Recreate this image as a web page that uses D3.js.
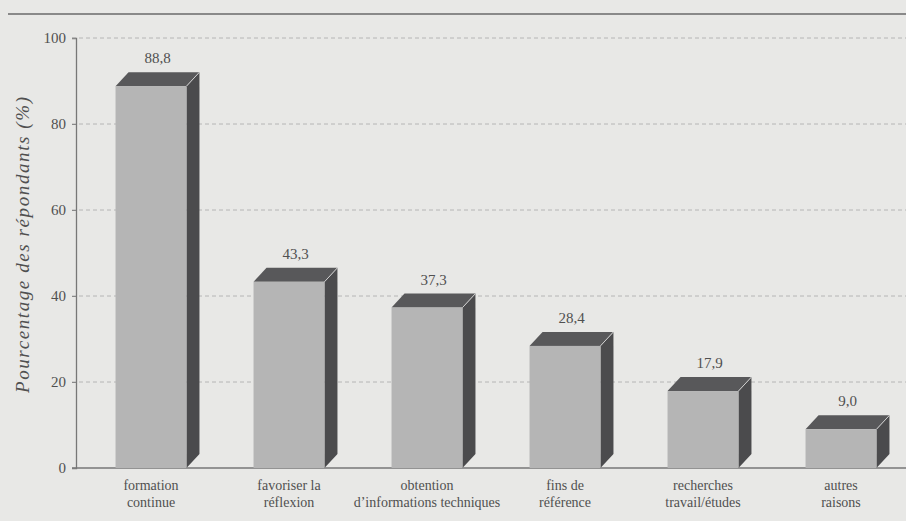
<!DOCTYPE html>
<html><head><meta charset="utf-8">
<script src="https://cdn.jsdelivr.net/npm/d3@7"></script>
</head><body style="margin:0;background:#e8e8e6">
<script>
const categories = [
  ["formation", "continue"],
  ["favoriser la", "réflexion"],
  ["obtention", "d’informations techniques"],
  ["fins de", "référence"],
  ["recherches", "travail/études"],
  ["autres", "raisons"]
];
const values = [88.8, 43.3, 37.3, 28.4, 17.9, 9.0];
const yTicks = [0, 20, 40, 60, 80, 100];
const yTitle = "Pourcentage des répondants (%)";

const W = 906, H = 521;
const FONT = '"Liberation Serif"';
const svg = d3.select("body").append("svg").attr("width", W).attr("height", H).style("display", "block");
svg.append("rect").attr("width", W).attr("height", H).attr("fill", "#e8e8e6");

const textCol = "#505050";

// top rule
svg.append("line").attr("x1", 8).attr("x2", W).attr("y1", 14).attr("y2", 14)
  .attr("stroke", "#6a6a6a").attr("stroke-width", 1.5);

const y = d3.scaleLinear().domain([0, 100]).range([468, 38]);
const idx = categories.map((c, i) => i);
const x = d3.scaleBand().domain(idx).range([82, 910]).paddingInner(0.486).paddingOuter(0.243);
const dx = 13, dy = 14;

// gridlines
svg.append("g").selectAll("line").data(yTicks.filter(t => t > 0)).join("line")
  .attr("x1", 72).attr("x2", W).attr("y1", d => y(d)).attr("y2", d => y(d))
  .attr("stroke", "#a8a8a8").attr("stroke-width", 0.8).attr("stroke-dasharray", "4,3");

// y axis
const yAxis = d3.axisLeft(y).tickValues(yTicks).tickSize(4).tickPadding(6).tickFormat(d3.format("d"));
const gy = svg.append("g").attr("transform", "translate(76,0)").call(yAxis);
gy.select(".domain").attr("stroke", "#777").attr("stroke-width", 1.3);
gy.selectAll(".tick line").attr("stroke", "#888");
gy.selectAll(".tick text").style("font-family", FONT).style("font-size", "15px").attr("fill", textCol);

// baseline
svg.append("line").attr("x1", 72).attr("x2", W).attr("y1", y(0)).attr("y2", y(0))
  .attr("stroke", "#777").attr("stroke-width", 1.3);

// y title
svg.append("text").attr("transform", `translate(29,245) rotate(-90)`)
  .attr("text-anchor", "middle").style("font-family", FONT).style("font-style", "italic")
  .style("font-size", "19px").attr("fill", textCol)
  .attr("textLength", 296).attr("lengthAdjust", "spacing").text(yTitle);

// bars
const bars = svg.append("g").selectAll("g").data(values).join("g");
bars.each(function(v, i) {
  const g = d3.select(this);
  const x0 = x(i), x1 = x(i) + x.bandwidth();
  const yt = y(v), yb = y(0);
  g.append("path").attr("d", `M${x1},${yt}L${x1+dx},${yt-dy}L${x1+dx},${yb-dy}L${x1},${yb}Z`)
    .attr("fill", "#4b4b4d");
  g.append("path").attr("d", `M${x0},${yt}L${x0+dx},${yt-dy}L${x1+dx},${yt-dy}L${x1},${yt}Z`)
    .attr("fill", "#58585a");
  g.append("line").attr("x1", x1).attr("y1", yt).attr("x2", x1+dx).attr("y2", yt-dy)
    .attr("stroke", "#cfcfcf").attr("stroke-width", 1);
  g.append("rect").attr("x", x0).attr("y", yt).attr("width", x.bandwidth()).attr("height", yb - yt)
    .attr("fill", "#b5b5b5");
  g.append("text").attr("x", (x0 + x1) / 2 + dx / 2).attr("y", yt - dy - 9)
    .attr("text-anchor", "middle").style("font-family", FONT).style("font-size", "15px")
    .attr("fill", textCol).text(d3.format(".1f")(v).replace(".", ","));
});

// category labels
const cl = svg.append("g").selectAll("text").data(categories).join("text")
  .attr("x", (d, i) => x(i) + x.bandwidth() / 2)
  .attr("y", 490)
  .attr("text-anchor", "middle").style("font-family", FONT).style("font-size", "14px")
  .attr("fill", textCol);
cl.each(function(d) {
  const t = d3.select(this);
  t.append("tspan").attr("x", t.attr("x")).attr("dy", 0).text(d[0]);
  t.append("tspan").attr("x", t.attr("x")).attr("dy", 17).text(d[1]);
});
</script>
</body></html>
